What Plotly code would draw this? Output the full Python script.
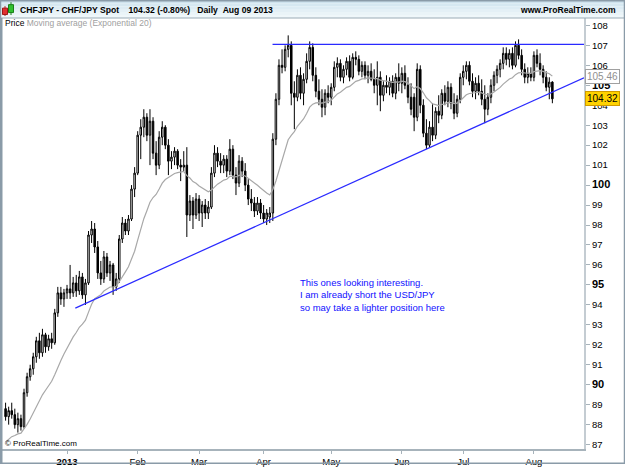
import plotly.graph_objects as go
import pandas as pd

# ---------------- data ----------------
start_date = "2012-12-04"
end_date = "2013-08-09"

opens = [88.8, 88.4, 88.7, 88.5, 88.0, 88.3, 87.9, 89.6, 90.4, 90.8,
         91.4, 92.2, 91.6, 92.5, 91.9, 92.3, 92.1, 93.6, 94.6, 94.3,
         94.6, 94.8, 94.6, 95.1, 94.7, 95.4, 94.5, 95.1, 97.5, 97.8,
         96.9, 95.6, 95.3, 96.4, 95.6, 96.0, 94.9, 95.3, 97.3, 98.1,
         97.7, 98.3, 99.8, 100.6, 102.5, 102.9, 103.4, 102.5, 103.2, 101.6,
         101.0, 102.4, 102.9, 102.0, 101.2, 101.4, 101.7, 101.0, 100.9, 101.0,
         98.5, 99.2, 98.5, 99.3, 98.6, 99.0, 98.6, 98.9, 100.6, 101.6,
         101.2, 101.0, 101.3, 100.7, 101.8, 100.5, 100.1, 101.2, 100.7, 100.0,
         99.3, 99.1, 98.7, 99.1, 98.6, 98.3, 98.4, 98.6, 102.3, 104.3,
         106.0, 105.9, 106.8, 107.0, 104.6, 104.4, 105.5, 104.6, 105.3, 106.2,
         106.9, 105.5, 104.7, 104.3, 103.9, 104.6, 104.4, 104.9, 105.9, 106.1,
         105.4, 105.8, 106.2, 105.4, 106.4, 106.3, 105.7, 106.0, 105.5, 105.7,
         105.3, 105.0, 105.4, 104.5, 105.0, 104.9, 105.2, 104.6, 105.4, 105.1,
         105.6, 105.0, 104.4, 104.4, 103.4, 105.8, 104.0, 102.6, 102.0, 102.9,
         102.5, 103.7, 103.5, 104.6, 104.2, 104.9, 104.1, 103.6, 104.3, 105.4,
         105.7, 106.0, 105.2, 104.7, 105.1, 104.7, 104.3, 103.8, 104.4, 105.0,
         105.5, 105.8, 106.1, 106.6, 106.3, 106.6, 106.0, 107.0, 106.5, 105.8,
         105.4, 105.6, 105.4, 106.5, 106.1, 105.8, 105.4, 104.9, 105.16]

highs = [89.1, 88.9, 89.1, 88.8, 88.6, 88.5, 89.8, 90.6, 91.0, 91.6,
         92.4, 92.6, 92.8, 92.6, 92.5, 92.6, 93.8, 94.9, 94.9, 94.8,
         95.0, 96.0, 95.4, 95.5, 95.7, 95.6, 95.3, 97.7, 98.2, 98.1,
         97.2, 96.2, 96.7, 96.6, 96.2, 96.1, 95.6, 97.5, 98.4, 98.3,
         98.5, 100.0, 100.9, 102.7, 103.3, 103.8, 103.6, 103.8, 103.4, 102.2,
         102.7, 103.2, 103.0, 102.3, 101.7, 101.9, 101.8, 101.3, 101.7, 101.9,
         99.5, 99.4, 99.6, 99.5, 99.2, 99.3, 99.2, 100.9, 102.0, 101.9,
         101.6, 101.5, 101.5, 102.3, 102.0, 100.9, 101.5, 101.4, 101.1, 100.3,
         99.8, 99.4, 99.4, 99.3, 99.0, 98.8, 98.9, 102.6, 104.6, 106.3,
         106.8, 107.0, 107.5, 107.2, 105.2, 105.8, 105.9, 105.6, 106.6, 107.2,
         107.1, 105.9, 105.3, 104.8, 104.8, 105.0, 105.1, 106.2, 106.4, 106.3,
         106.0, 106.4, 106.5, 106.6, 106.7, 106.5, 106.2, 106.2, 106.0, 106.1,
         105.8, 106.2, 105.7, 105.2, 105.5, 105.4, 105.5, 105.6, 106.1, 105.9,
         106.0, 105.4, 105.1, 104.6, 106.1, 106.0, 104.3, 103.3, 103.2, 104.1,
         103.9, 104.5, 104.8, 105.0, 105.2, 105.1, 104.6, 104.5, 105.6, 106.0,
         106.2, 106.2, 105.6, 105.4, 105.5, 105.3, 105.0, 104.6, 105.3, 105.7,
         106.0, 106.3, 106.9, 106.9, 106.8, 106.9, 107.2, 107.3, 106.8, 106.1,
         105.9, 105.9, 106.7, 106.8, 106.6, 106.0, 105.7, 105.4, 105.2]

lows = [88.2, 88.0, 88.3, 87.8, 87.6, 87.7, 87.8, 89.4, 90.2, 90.5,
        91.1, 91.3, 91.4, 91.6, 91.7, 91.8, 92.0, 93.4, 94.0, 93.9,
        94.3, 94.3, 94.4, 94.4, 94.5, 94.3, 94.0, 95.0, 97.1, 96.6,
        95.3, 95.0, 95.1, 95.4, 95.2, 94.5, 94.7, 95.1, 97.1, 97.5,
        97.5, 98.2, 99.4, 100.5, 101.3, 102.4, 102.2, 101.0, 101.3, 100.5,
        100.8, 102.0, 101.8, 100.5, 100.8, 101.0, 100.8, 100.2, 100.7, 97.4,
        98.2, 97.8, 98.3, 98.2, 97.9, 98.3, 98.3, 98.8, 100.4, 100.9,
        100.6, 100.6, 100.4, 100.5, 100.3, 99.5, 99.9, 100.4, 99.7, 99.0,
        98.7, 98.4, 98.5, 98.3, 98.1, 98.0, 98.1, 98.2, 102.0, 104.0,
        105.6, 105.7, 106.4, 104.0, 102.8, 104.2, 104.3, 104.0, 105.1, 105.8,
        105.2, 104.4, 104.0, 103.4, 103.5, 104.1, 104.0, 104.7, 105.4, 105.2,
        105.1, 105.5, 105.2, 105.3, 106.0, 105.5, 105.4, 105.3, 105.1, 105.2,
        104.6, 104.0, 103.7, 104.2, 104.6, 104.5, 104.4, 104.3, 104.7, 104.6,
        104.8, 104.1, 103.5, 102.7, 103.2, 103.6, 102.4, 101.8, 101.9, 102.2,
        102.3, 103.1, 103.3, 104.0, 103.9, 103.8, 103.3, 103.4, 104.1, 105.0,
        105.3, 105.0, 104.4, 104.3, 104.5, 104.0, 103.1, 103.5, 104.1, 104.7,
        105.1, 105.4, 105.8, 106.0, 105.9, 105.8, 105.9, 106.3, 105.5, 105.1,
        105.1, 105.2, 105.2, 105.9, 105.5, 105.1, 104.7, 104.3, 104.1]

closes = [88.4, 88.7, 88.5, 88.0, 88.3, 87.9, 89.6, 90.4, 90.8, 91.4,
          92.2, 91.6, 92.5, 91.9, 92.3, 92.1, 93.6, 94.6, 94.3, 94.6,
          94.8, 94.6, 95.1, 94.7, 95.4, 94.5, 95.1, 97.5, 97.8, 96.9,
          95.6, 95.3, 96.4, 95.6, 96.0, 94.9, 95.3, 97.3, 98.1, 97.7,
          98.3, 99.8, 100.6, 102.5, 102.9, 103.4, 102.5, 103.2, 101.6, 101.0,
          102.4, 102.9, 102.0, 101.2, 101.4, 101.7, 101.0, 100.9, 101.0, 98.5,
          99.2, 98.5, 99.3, 98.6, 99.0, 98.6, 98.9, 100.6, 101.6, 101.2,
          101.0, 101.3, 100.7, 101.8, 100.5, 100.1, 101.2, 100.7, 100.0, 99.3,
          99.1, 98.7, 99.1, 98.6, 98.3, 98.6, 98.6, 102.3, 104.3, 106.0,
          105.9, 106.8, 107.0, 104.6, 104.4, 105.5, 104.6, 105.3, 106.2, 106.9,
          105.5, 104.7, 104.3, 103.9, 104.6, 104.4, 104.9, 105.9, 106.1, 105.4,
          105.8, 106.2, 105.4, 106.4, 106.3, 105.7, 106.0, 105.5, 105.7, 105.3,
          105.0, 105.4, 104.5, 105.0, 104.9, 105.2, 104.6, 105.4, 105.1, 105.6,
          105.0, 104.4, 103.8, 103.4, 105.8, 104.0, 102.6, 102.0, 102.9, 102.5,
          103.7, 103.5, 104.6, 104.2, 104.9, 104.1, 103.6, 104.3, 105.4, 105.7,
          106.0, 105.2, 104.7, 105.1, 104.7, 104.3, 103.8, 104.4, 105.0, 105.5,
          105.8, 106.1, 106.6, 106.3, 106.6, 106.0, 107.0, 106.5, 105.8, 105.4,
          105.6, 105.4, 106.5, 106.1, 105.8, 105.4, 104.9, 105.16, 104.32]

ema_period = 20
ema_seed = 87.0            # level of the average before the first bar shown

y_ticks = list(range(87, 109))
y_major = [90, 95, 100, 105]

resistance_level = 107.05
resistance_from = "2013-04-04"
support_points = [("2013-01-04", 93.86), ("2013-08-09", 104.66)]

note_lines = ["This ones looking interesting.",
              "I am already short the USD/JPY",
              "so may take a lighter position here"]

# ---------------- derived ----------------
dates = pd.bdate_range(start_date, end_date)
n = len(dates)
assert n == len(opens) == len(highs) == len(lows) == len(closes)
xs = list(range(n))
date_idx = {d.strftime("%Y-%m-%d"): i for i, d in enumerate(dates)}

alpha = 2.0 / (ema_period + 1)
ema = []
prev = ema_seed
for c in closes:
    prev = alpha * c + (1 - alpha) * prev
    ema.append(prev)

month_vals, month_text = [], []
for i, d in enumerate(dates):
    if i > 0 and d.month != dates[i - 1].month:
        month_vals.append(i)
        month_text.append("<b>2013</b>" if d.month == 1 else d.strftime("%b"))

x_min, x_max = -1.17, 188.3
y_min, y_max = 86.78, 108.37

last = closes[-1]
chg = (closes[-1] / closes[-2] - 1) * 100

FONT = "Liberation Sans, Arial, sans-serif"

fig = go.Figure()
fig.add_trace(go.Candlestick(
    x=xs, open=opens, high=highs, low=lows, close=closes,
    increasing=dict(line=dict(color="#000000", width=1), fillcolor="#ffffff"),
    decreasing=dict(line=dict(color="#000000", width=1), fillcolor="#000000"),
    whiskerwidth=0, showlegend=False, hoverinfo="skip"))
fig.add_trace(go.Scatter(x=xs, y=ema, mode="lines",
                         line=dict(color="#a8a8a8", width=1.2),
                         showlegend=False, hoverinfo="skip"))

ytext = []
for v in y_ticks:
    if v in y_major:
        ytext.append(f"<span style='font-size:11px'><b>{v}</b></span>")
    else:
        ytext.append(str(v))

# pixel geometry for paper-coordinate decorations
W, H = 625, 469
ml, mr, mt, mb = 2, 41, 18, 15
pw, ph = W - ml - mr, H - mt - mb
def px(xp):
    return (xp - ml) / pw
def py(yp):
    return (H - mb - yp) / ph

shapes = []
# title bar (simulated gradient)
bands = ["#cfe3ee", "#d6e8f1", "#ddecf4", "#e4f0f6", "#eaf4f8", "#eff7fa"]
for k, col in enumerate(bands):
    y0 = k * 18 / len(bands)
    y1 = (k + 1) * 18 / len(bands)
    shapes.append(dict(type="rect", xref="paper", yref="paper",
                       x0=px(0), x1=px(W), y0=py(y1), y1=py(y0),
                       fillcolor=col, line=dict(width=0), layer="below"))
shapes.append(dict(type="line", xref="paper", yref="paper", x0=px(0), x1=px(W),
                   y0=py(18), y1=py(18), line=dict(color="#9aabb6", width=1)))
# outer border
shapes.append(dict(type="rect", xref="paper", yref="paper",
                   x0=px(0.5), x1=px(W - 0.5), y0=py(H - 0.5), y1=py(0.5),
                   line=dict(color="#8a9ba8", width=1.5)))
# left frame line
shapes.append(dict(type="line", xref="paper", yref="paper", x0=px(1.5), x1=px(1.5),
                   y0=py(H), y1=py(18), line=dict(color="#8a9ba8", width=2)))

# trend lines
x_res0 = date_idx[resistance_from] - 0.1
shapes.append(dict(type="line", xref="x", yref="y", x0=x_res0, x1=x_max,
                   y0=resistance_level, y1=resistance_level,
                   line=dict(color="#2a2aff", width=1.2)))
(sd0, sp0), (sd1, sp1) = support_points
si0, si1 = date_idx[sd0], date_idx[sd1]
slope = (sp1 - sp0) / (si1 - si0)
shapes.append(dict(type="line", xref="x", yref="y", x0=si0 - 0.3, x1=x_max,
                   y0=sp0 - 0.3 * slope, y1=sp1 + (x_max - si1) * slope,
                   line=dict(color="#2a2aff", width=1.2)))

# title icon (two little candles)
shapes += [
    dict(type="line", xref="paper", yref="paper", x0=px(5), x1=px(5), y0=py(16), y1=py(6),
         line=dict(color="#b02020", width=1)),
    dict(type="rect", xref="paper", yref="paper", x0=px(2.5), x1=px(7.5), y0=py(14.5), y1=py(8),
         fillcolor="#e03030", line=dict(color="#a01818", width=1)),
    dict(type="line", xref="paper", yref="paper", x0=px(11), x1=px(11), y0=py(15), y1=py(2),
         line=dict(color="#208020", width=1)),
    dict(type="rect", xref="paper", yref="paper", x0=px(8.5), x1=px(13.5), y0=py(12.5), y1=py(4.5),
         fillcolor="#30c030", line=dict(color="#188018", width=1)),
]

annotations = [
    dict(xref="paper", yref="paper", x=px(18), y=py(9.5), xanchor="left", yanchor="middle",
         text=f"<b>CHFJPY - CHF/JPY Spot&nbsp;&nbsp;&nbsp;&nbsp;{last:.2f} ({chg:.2f}%)&nbsp;&nbsp;&nbsp;Daily&nbsp;&nbsp;Aug 09 2013</b>",
         showarrow=False, font=dict(family=FONT, size=8.6, color="#000000")),
    dict(xref="paper", yref="paper", x=px(618), y=py(9.5), xanchor="right", yanchor="middle",
         text="<b>www.ProRealTime.com</b>", showarrow=False,
         font=dict(family=FONT, size=8.6, color="#000000")),
    dict(xref="paper", yref="paper", x=px(3), y=py(23), xanchor="left", yanchor="middle",
         text="Price <span style='color:#a0a0a0'>Moving average (Exponential 20)</span>",
         showarrow=False, font=dict(family=FONT, size=8.5, color="#000000")),
    dict(xref="paper", yref="paper", x=px(3), y=py(448), xanchor="left", yanchor="middle",
         text="© ProRealTime.com", showarrow=False,
         font=dict(family=FONT, size=8, color="#000000")),
    dict(xref="paper", yref="paper", x=px(298), y=py(278), xanchor="left", yanchor="top",
         text="<br>".join(note_lines), align="left", showarrow=False,
         font=dict(family=FONT, size=9.5, color="#1010ff")),
    dict(xref="paper", yref="y", x=px(585), y=last, xanchor="left", yanchor="middle",
         text=f"{last:.2f}", showarrow=False, bgcolor="#ffd200", bordercolor="#d09a00",
         borderwidth=1, borderpad=1, font=dict(family=FONT, size=10, color="#000000")),
    dict(xref="paper", yref="y", x=px(585), y=ema[-1], xanchor="left", yanchor="middle",
         text=f"{ema[-1]:.2f}", showarrow=False, bgcolor="#ffffff", bordercolor="#a0a0a0",
         borderwidth=1, borderpad=1, font=dict(family=FONT, size=10, color="#909090")),
]

fig.update_layout(
    width=W, height=H,
    margin=dict(l=ml, r=mr, t=mt, b=mb, pad=0),
    paper_bgcolor="#ffffff", plot_bgcolor="#ffffff",
    shapes=shapes, annotations=annotations,
    showlegend=False,
    font=dict(family=FONT, size=10, color="#000000"),
    xaxis=dict(range=[x_min, x_max], tickmode="array", tickvals=month_vals, ticktext=month_text,
               showgrid=False, zeroline=False, rangeslider=dict(visible=False),
               showline=True, linecolor="#a7b3bb", linewidth=1.5,
               ticks="outside", ticklen=3, tickcolor="#a7b3bb",
               tickfont=dict(family=FONT, size=9.5, color="#000000")),
    yaxis=dict(range=[y_min, y_max], side="right", tickmode="array", tickvals=y_ticks,
               ticktext=ytext, showgrid=False, zeroline=False,
               showline=True, linecolor="#c4ccd2", linewidth=2,
               ticks="outside", ticklen=4, tickcolor="#a7b3bb",
               tickfont=dict(family=FONT, size=9.5, color="#000000")),
)

fig.write_html("out.html")
